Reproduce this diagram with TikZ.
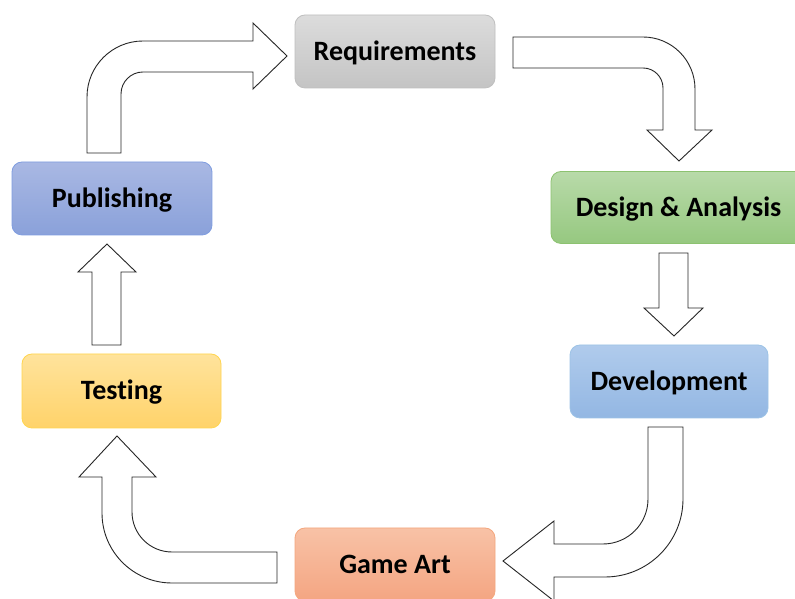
\documentclass[tikz,border=0pt]{standalone}
\usepackage{fontspec}
\setmainfont{Carlito}[Ligatures=NoCommon]
\definecolor{reqT}{HTML}{DCDCDC}\definecolor{reqB}{HTML}{C4C4C4}\definecolor{reqD}{HTML}{BFBFBF}
\definecolor{desT}{HTML}{B8DAA9}\definecolor{desB}{HTML}{96C880}\definecolor{desD}{HTML}{8CC270}
\definecolor{pubT}{HTML}{A9B8E3}\definecolor{pubB}{HTML}{8AA1DA}\definecolor{pubD}{HTML}{7F9DE0}
\definecolor{devT}{HTML}{B0CBEC}\definecolor{devB}{HTML}{93B7E3}\definecolor{devD}{HTML}{9DC3E6}
\definecolor{tesT}{HTML}{FFE39C}\definecolor{tesB}{HTML}{FFD36A}\definecolor{tesD}{HTML}{FFD54F}
\definecolor{artT}{HTML}{F8C2A6}\definecolor{artB}{HTML}{F4A582}\definecolor{artD}{HTML}{F4A77E}
\begin{document}
\begin{tikzpicture}[x=1pt,y=1pt,
  stage/.style={rounded corners=10pt, line width=0.8pt, inner sep=0pt,
    text height=18pt, text depth=0pt,
    font=\fontsize{28}{32}\selectfont\bfseries, text=black},
  blockarrow/.style={draw=black!85, fill=white, line width=0.9pt, line join=miter}]
\useasboundingbox (0,0) rectangle (795,599);
\clip (0,0) rectangle (795,599);
\fill[white] (0,0) rectangle (795,599);

\node[stage, draw=reqD, top color=reqT, bottom color=reqB, minimum width=200pt, minimum height=73pt] (req) at (395,547.5) {Requirements};
\node[stage, draw=desD, top color=desT, bottom color=desB, minimum width=255pt, minimum height=72pt] (des) at (678.5,391.5) {Design \& Analysis};
\node[stage, draw=pubD, top color=pubT, bottom color=pubB, minimum width=200pt, minimum height=73pt] (pub) at (112,400.5) {Publishing};
\node[stage, draw=devD, top color=devT, bottom color=devB, minimum width=198pt, minimum height=73pt] (dev) at (669,217.5) {Development};
\node[stage, draw=tesD, top color=tesT, bottom color=tesB, minimum width=199pt, minimum height=74pt] (tes) at (121.5,208) {Testing};
\node[stage, draw=artD, top color=artT, bottom color=artB, minimum width=200pt, minimum height=73pt] (art) at (395,34.5) {Game Art};

% Publishing -> Requirements
\draw[blockarrow] (87,446) -- (87,502) arc[start angle=180, end angle=90, radius=56]
  -- (253,558) -- (253,576) -- (287,543) -- (253,510) -- (253,527) -- (143,527)
  arc[start angle=90, end angle=180, radius=22] -- (121,446) -- cycle;

% Requirements -> Design & Analysis
\draw[blockarrow] (513,562) -- (643,562) arc[start angle=90, end angle=0, radius=52]
  -- (695,469) -- (712,469) -- (679,438) -- (647,469) -- (663,469) -- (663,511)
  arc[start angle=0, end angle=90, radius=20] -- (513,531) -- cycle;

% Design & Analysis -> Development
\draw[blockarrow] (659,346) -- (688,346) -- (688,291) -- (703,291) -- (674,263)
  -- (644,291) -- (659,291) -- cycle;

% Development -> Game Art
\draw[blockarrow] (648,172) -- (648,100) arc[start angle=0, end angle=-90, radius=45]
  -- (554,55) -- (554,78) -- (503,38) -- (554,-2) -- (554,22) -- (605,22)
  arc[start angle=-90, end angle=0, radius=78] -- (683,172) -- cycle;

% Game Art -> Testing
\draw[blockarrow] (277,47) -- (172,47) arc[start angle=270, end angle=180, radius=40]
  -- (132,122) -- (156,122) -- (117,163) -- (79,122) -- (102,122) -- (102,86)
  arc[start angle=180, end angle=270, radius=70] -- (277,16) -- cycle;

% Testing -> Publishing
\draw[blockarrow] (92,254) -- (121,254) -- (121,327) -- (136,327) -- (107,355)
  -- (78,327) -- (92,327) -- cycle;
\end{tikzpicture}
\end{document}
